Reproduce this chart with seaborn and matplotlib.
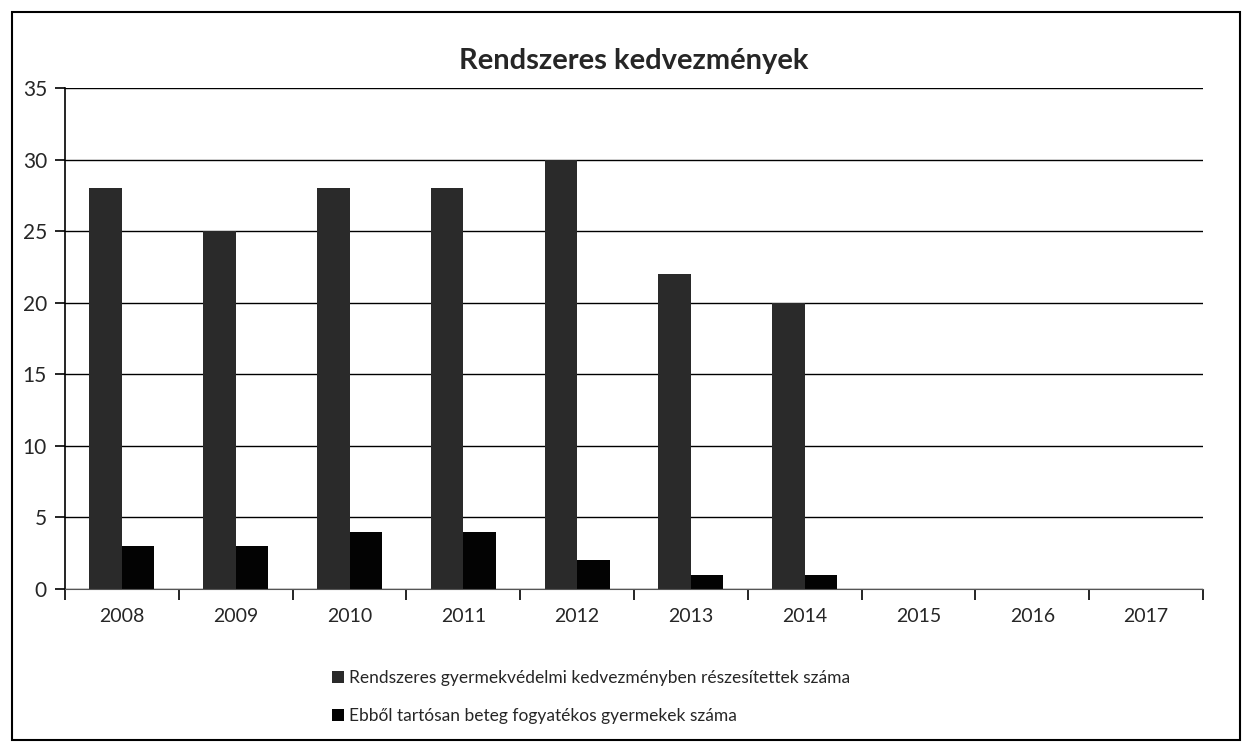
import matplotlib.pyplot as plt
import matplotlib.patches as mpatches
import seaborn as sns
import pandas as pd

years = ['2008', '2009', '2010', '2011', '2012', '2013', '2014', '2015', '2016', '2017']
rendszeres = [28, 25, 28, 28, 30, 22, 20, 0, 0, 0]
tartosan_beteg = [3, 3, 4, 4, 2, 1, 1, 0, 0, 0]
series_names = ['Rendszeres gyermekvédelmi kedvezményben részesítettek száma',
                'Ebből tartósan beteg fogyatékos gyermekek száma']
colors = ['#2a2a2a', '#030303']
y_ticks = [0, 5, 10, 15, 20, 25, 30, 35]

df = pd.DataFrame({
    'year': years * 2,
    'value': rendszeres + tartosan_beteg,
    'series': [series_names[0]] * len(years) + [series_names[1]] * len(years),
})

sns.set_style("white")
plt.rcParams['font.family'] = ['Lato', 'DejaVu Sans']

fig = plt.figure(figsize=(12.42, 7.45), dpi=100)
ax = fig.add_axes([65 / 1242, 1 - 589 / 745, (1203 - 65) / 1242, (589 - 88) / 745])

sns.barplot(data=df, x='year', y='value', hue='series', palette=colors,
            width=0.57, saturation=1, linewidth=0, ax=ax, legend=True)

ax.set_ylim(0, 35)
ax.set_xlim(-0.5, len(years) - 0.5)
ax.set_yticks(y_ticks)
ax.set_yticklabels([str(t) for t in y_ticks], fontsize=15)
ax.set_xticks(range(len(years)))
ax.set_xticklabels(years, fontsize=14)
ax.tick_params(axis='x', which='major', bottom=False, length=0, pad=14)
ax.tick_params(axis='y', left=True, length=7, width=1.2, color='black', direction='out', pad=6)
# category boundary ticks on the x axis
ax.set_xticks([i - 0.5 for i in range(len(years) + 1)], minor=True)
ax.tick_params(axis='x', which='minor', bottom=True, length=8, width=1.2, color='black', direction='out')
ax.set_xlabel('')
ax.set_ylabel('')
ax.yaxis.grid(True, color='black', linewidth=1)
ax.set_axisbelow(True)
for side in ['top', 'right']:
    ax.spines[side].set_visible(False)
ax.spines['left'].set_color('black')
ax.spines['bottom'].set_color('#555555')
ax.spines['left'].set_linewidth(1.2)

ax.set_title('Rendszeres kedvezmények', fontsize=21, fontweight='bold', pad=14)

handles, labels = ax.get_legend_handles_labels()
ax.legend(handles, labels, loc='upper center', bbox_to_anchor=(0.462, -0.13), ncol=1,
          frameon=False, fontsize=12.5, handlelength=0.7, handleheight=0.7,
          handletextpad=0.3, labelspacing=1.3)

fig.patches.append(mpatches.Rectangle((12 / 1242, 5 / 745), 1 - 14 / 1242, 1 - 17 / 745,
                                      transform=fig.transFigure, fill=False,
                                      edgecolor='black', linewidth=1.5))

fig.savefig('out.png', dpi=100)
